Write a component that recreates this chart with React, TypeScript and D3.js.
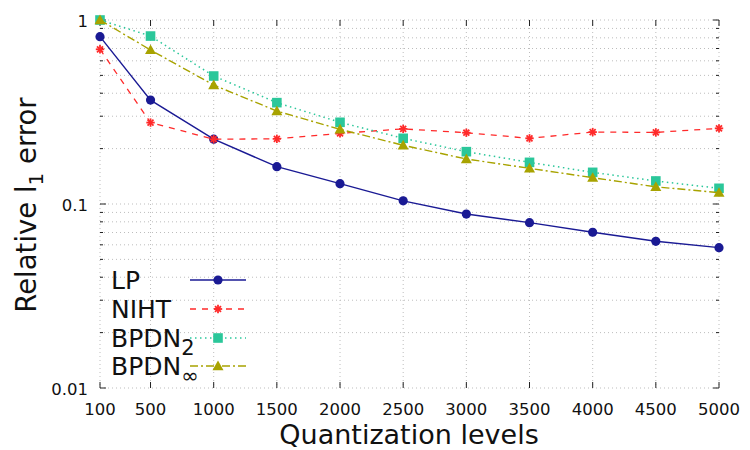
import React from "react";
import * as d3 from "d3";

const levels = [100, 500, 1000, 1500, 2000, 2500, 3000, 3500, 4000, 4500, 5000];
const lpErr = [0.812, 0.367, 0.225, 0.1595, 0.129, 0.104, 0.0882, 0.0792, 0.0702, 0.0627, 0.0579];
const nihtErr = [0.693, 0.277, 0.225, 0.226, 0.242, 0.256, 0.244, 0.2275, 0.246, 0.245, 0.2577];
const bpdn2Err = [1.0, 0.818, 0.496, 0.3555, 0.278, 0.2275, 0.1925, 0.1684, 0.1486, 0.1334, 0.1217];
const bpdnInfErr = [1.0, 0.687, 0.443, 0.32, 0.2546, 0.2085, 0.1756, 0.1563, 0.139, 0.124, 0.1152];
const xTicks = [100, 500, 1000, 1500, 2000, 2500, 3000, 3500, 4000, 4500, 5000];
const yMajor = [0.01, 0.1, 1];
const yTickLabels = ["0.01", "0.1", "1"];

const FONT = "'DejaVu Sans', sans-serif";
const W = 750;
const H = 450;
const left = 100;
const right = 719;
const top = 20;
const bottom = 388;

type Marker = "circle" | "star" | "square" | "triangle";
interface Series {
  name: string;
  sub?: string;
  values: number[];
  color: string;
  dash: string;
  width: number;
  marker: Marker;
}

const series: Series[] = [
  { name: "LP", values: lpErr, color: "#1a1a94", dash: "", width: 1.4, marker: "circle" },
  { name: "NIHT", values: nihtErr, color: "#ff2a2a", dash: "6,6", width: 1.3, marker: "star" },
  { name: "BPDN", sub: "2", values: bpdn2Err, color: "#2bc79a", dash: "1.5,3.5", width: 1.5, marker: "square" },
  { name: "BPDN", sub: "∞", values: bpdnInfErr, color: "#a8a300", dash: "8,3,2,3", width: 1.4, marker: "triangle" },
];

function MarkerShape({ kind, x, y, color }: { kind: Marker; x: number; y: number; color: string }) {
  if (kind === "circle") return <circle cx={x} cy={y} r={4.6} fill={color} />;
  if (kind === "square") return <rect x={x - 4.8} y={y - 4.8} width={9.6} height={9.6} fill={color} />;
  if (kind === "triangle") {
    const s = 5.5;
    return <path d={`M${x},${y - s}L${x + s},${y + s * 0.75}L${x - s},${y + s * 0.75}Z`} fill={color} />;
  }
  const r = 4.2;
  const lines = [0, 45, 90, 135].map((a) => {
    const rad = (a * Math.PI) / 180;
    return (
      <line
        key={a}
        x1={x - r * Math.cos(rad)}
        y1={y - r * Math.sin(rad)}
        x2={x + r * Math.cos(rad)}
        y2={y + r * Math.sin(rad)}
        stroke={color}
        strokeWidth={1.8}
      />
    );
  });
  return <g>{lines}</g>;
}

export default function App() {
  const x = d3.scaleLinear().domain([100, 5000]).range([left, right]);
  const y = d3.scaleLog().domain([0.01, 1]).range([bottom, top]);

  const minor: number[] = [];
  [0.01, 0.1].forEach((d) => {
    for (let k = 2; k <= 9; k++) minor.push(d * k);
  });

  const line = d3
    .line<[number, number]>()
    .x((d) => x(d[0]))
    .y((d) => y(d[1]));

  const tickColor = "#222";
  const gridColor = "#bdbdbd";

  const legendRows = [280, 309, 338, 366];

  return (
    <svg width={W} height={H} style={{ position: "absolute", left: 0, top: 0, background: "#fff" }} fontFamily={FONT}>
      {/* grid */}
      <g stroke={gridColor} strokeWidth={1} strokeDasharray="1,3">
        {[...minor, ...yMajor].map((v, i) => (
          <line key={"gy" + i} x1={left} x2={right} y1={y(v)} y2={y(v)} />
        ))}
        {xTicks.map((v) => (
          <line key={"gx" + v} x1={x(v)} x2={x(v)} y1={top} y2={bottom} />
        ))}
      </g>

      {/* ticks */}
      <g stroke={tickColor} strokeWidth={1}>
        {yMajor.map((v) => (
          <g key={"ty" + v}>
            <line x1={left} x2={left + 6} y1={y(v)} y2={y(v)} />
            <line x1={right - 6} x2={right} y1={y(v)} y2={y(v)} />
          </g>
        ))}
        {minor.map((v, i) => (
          <g key={"tm" + i}>
            <line x1={left} x2={left + 3} y1={y(v)} y2={y(v)} />
            <line x1={right - 3} x2={right} y1={y(v)} y2={y(v)} />
          </g>
        ))}
        {xTicks.map((v) => (
          <g key={"tx" + v}>
            <line x1={x(v)} x2={x(v)} y1={bottom} y2={bottom - 6} />
            <line x1={x(v)} x2={x(v)} y1={top} y2={top + 6} />
          </g>
        ))}
      </g>

      {/* tick labels */}
      <g fontSize={16.5} fill="#111">
        {xTicks.map((v) => (
          <text key={"lx" + v} x={x(v)} y={414.5} textAnchor="middle">
            {v}
          </text>
        ))}
        {yMajor.map((v, i) => (
          <text key={"ly" + v} x={88} y={y(v) + 7} textAnchor="end">
            {yTickLabels[i]}
          </text>
        ))}
      </g>

      {/* axis titles */}
      <text x={409} y={444} textAnchor="middle" fontSize={27} fill="#111">
        Quantization levels
      </text>
      <text transform="translate(36,205) rotate(-90)" textAnchor="middle" fontSize={27.5} fill="#111">
        Relative l
        <tspan fontSize={20} dy={7}>
          1
        </tspan>
        <tspan dy={-7}> error</tspan>
      </text>

      {/* series */}
      {series.map((s, si) => {
        const pts = levels.map((lv, i) => [lv, s.values[i]] as [number, number]);
        return (
          <g key={"s" + si}>
            <path
              d={line(pts) || ""}
              fill="none"
              stroke={s.color}
              strokeWidth={s.width}
              strokeDasharray={s.dash || undefined}
            />
            {pts.map((p, i) => (
              <MarkerShape key={i} kind={s.marker} x={x(p[0])} y={y(p[1])} color={s.color} />
            ))}
          </g>
        );
      })}

      {/* legend */}
      {series.map((s, si) => {
        const ly = legendRows[si];
        return (
          <g key={"lg" + si}>
            <text x={111} y={ly + 9} fontSize={25} fill="#111">
              {s.name}
              {s.sub && (
                <tspan fontSize={21} dy={8}>
                  {s.sub}
                </tspan>
              )}
            </text>
            <line
              x1={190}
              x2={246}
              y1={ly}
              y2={ly}
              stroke={s.color}
              strokeWidth={s.width}
              strokeDasharray={s.dash || undefined}
            />
            <MarkerShape kind={s.marker} x={218} y={ly} color={s.color} />
          </g>
        );
      })}
    </svg>
  );
}
